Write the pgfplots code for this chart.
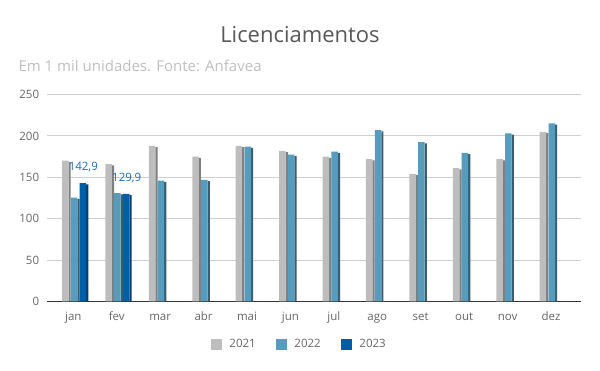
\documentclass[border=0pt]{standalone}
\usepackage{fontspec}
\setmainfont{Open Sans}
\usepackage{pgfplots}
\pgfplotsset{compat=1.18}
\definecolor{titlegray}{HTML}{595959}
\definecolor{subgray}{HTML}{BFBFBF}
\definecolor{tickgray}{HTML}{666666}
\definecolor{gridgray}{HTML}{CFCFCF}
\definecolor{axisdark}{HTML}{333333}
\definecolor{gA}{HTML}{BDBDBD}
\definecolor{gAs}{HTML}{7F7F7F}
\definecolor{bB}{HTML}{569CBF}
\definecolor{bBs}{HTML}{3A5E6F}
\definecolor{dC}{HTML}{005DA8}
\definecolor{dCs}{HTML}{00406E}
\definecolor{labelblue}{HTML}{1F6EB4}
\begin{document}
\begin{tikzpicture}[x=1pt,y=1pt]
\path[use as bounding box] (0,0) rectangle (600,371);
\node[font=\fontsize{22}{26}\selectfont, text=titlegray, anchor=base, inner sep=0] at (300,328.3) {Licenciamentos};
\node[font=\fontsize{15}{18}\selectfont, text=subgray, anchor=base west, inner sep=0] at (18.3,299.3) {Em 1 mil unidades. Fonte: Anfavea};
\begin{axis}[
  at={(47.3pt,69.5pt)}, anchor=south west,
  scale only axis, width=533.4pt, height=207pt,
  xmin=-0.599, xmax=11.684, ymin=0, ymax=250,
  ytick={0,50,100,150,200,250},
  xtick={0,1,2,3,4,5,6,7,8,9,10,11},
  xticklabels={jan,fev,mar,abr,mai,jun,jul,ago,set,out,nov,dez},
  ymajorgrids, grid style={draw=gridgray, line width=0.8pt},
  separate axis lines,
  axis x line*=bottom, axis y line*=left,
  x axis line style={-, draw=axisdark, line width=1.2pt},
  y axis line style={draw=none},
  major tick length=0pt,
  /pgf/number format/assume math mode=true,
  ticklabel style={font=\fontsize{11.5}{13}\selectfont, text=tickgray},
  yticklabel style={inner sep=0pt, anchor=east, xshift=-8pt},
  xticklabel style={inner sep=0pt, anchor=base, yshift=-19.5pt},
  legend columns=3,
  legend style={at={(0.4723,-0.2077)}, anchor=center, draw=none, fill=none,
    font=\fontsize{11.5}{13}\selectfont, text=tickgray,
    column sep=5pt,
    /tikz/every even column/.append style={column sep=18pt}},
  clip=false,
]
% side faces
\addplot[ybar, bar width=2.2pt, bar shift=-3.7pt, fill=gAs, draw=none, forget plot] coordinates {
 (0,168.5) (1,164.5) (2,186.5) (3,173.5) (4,186.5) (5,180.5) (6,173.5) (7,170.5) (8,152.5) (9,159.5) (10,170.5) (11,203.5)};
\addplot[ybar, bar width=2.2pt, bar shift=5.1pt, fill=bBs, draw=none, forget plot] coordinates {
 (0,124) (1,129.5) (2,144.5) (3,145.5) (4,185.5) (5,176) (6,179.5) (7,205.5) (8,191) (9,178) (10,201.5) (11,213.5)};
\addplot[ybar, bar width=2.2pt, bar shift=13.9pt, fill=dCs, draw=none, forget plot] coordinates {
 (0,141.4) (1,128.4)};
% front faces
\addplot[ybar, bar width=6.5pt, bar shift=-8.05pt, fill=gA, draw=none,
  legend image code/.code={\fill[gA] (0pt,-5.85pt) rectangle (11.7pt,5.85pt);}] coordinates {
 (0,170) (1,166) (2,188) (3,175) (4,188) (5,182) (6,175) (7,172) (8,154) (9,161) (10,172) (11,205)};
\addlegendentry{2021}
\addplot[ybar, bar width=6.5pt, bar shift=0.75pt, fill=bB, draw=none,
  legend image code/.code={\fill[bB] (0pt,-5.85pt) rectangle (11.7pt,5.85pt);}] coordinates {
 (0,125.5) (1,131) (2,146) (3,147) (4,187) (5,177.5) (6,181) (7,207) (8,192.5) (9,179.5) (10,203) (11,215)};
\addlegendentry{2022}
\addplot[ybar, bar width=6.5pt, bar shift=9.55pt, fill=dC, draw=none,
  legend image code/.code={\fill[dC] (0pt,-5.85pt) rectangle (11.7pt,5.85pt);},
  point meta=explicit symbolic,
  nodes near coords={\pgfplotspointmeta},
  nodes near coords style={font=\fontsize{11.5}{13}\selectfont, text=labelblue, anchor=base, xshift=10pt, yshift=12.5pt, inner sep=0pt}] coordinates {
 (0,142.9) [142{,}9] (1,129.9) [129{,}9]};
\addlegendentry{2023}
\end{axis}
\end{tikzpicture}
\end{document}
